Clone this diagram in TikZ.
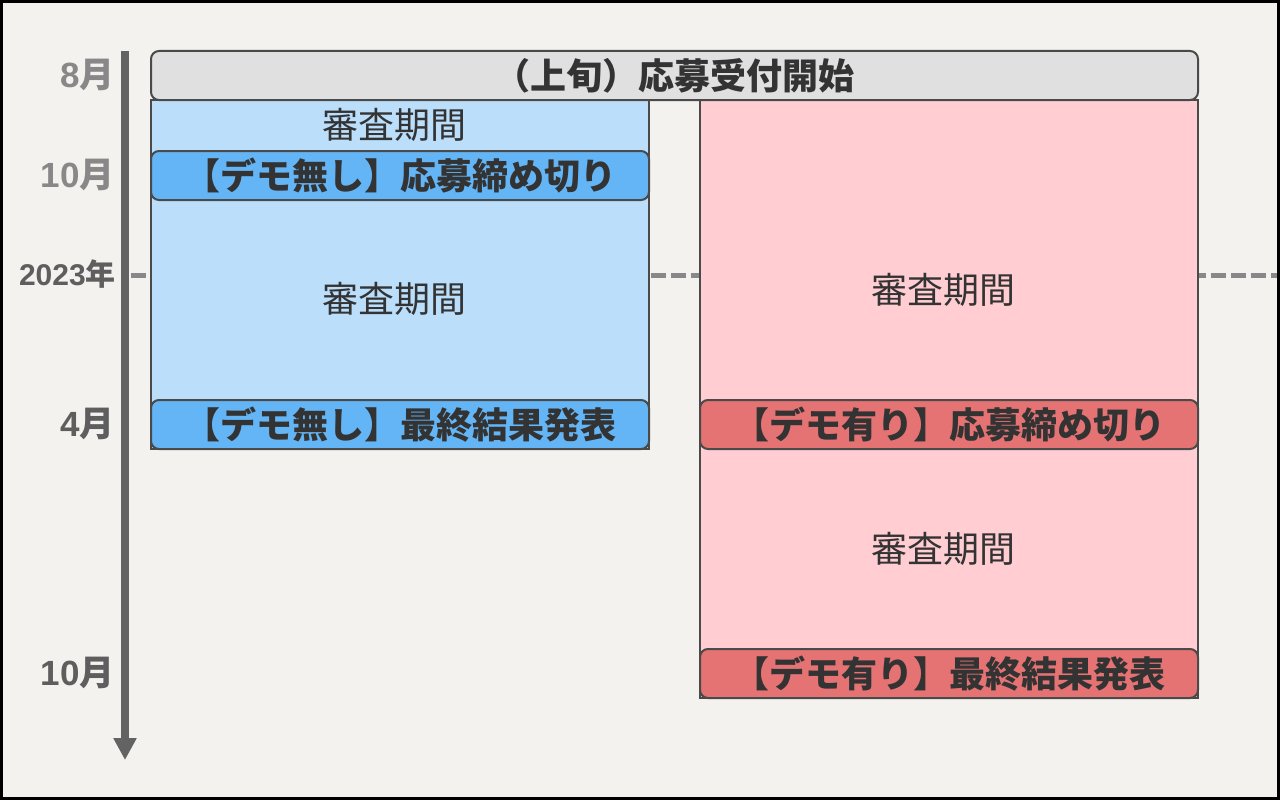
\documentclass[tikz,border=0pt]{standalone}
\usepackage{fontspec}
\newfontfamily\jp{Noto Sans CJK JP}
\newfontfamily\lib{Liberation Sans}
\usetikzlibrary{arrows.meta}
\definecolor{bgc}{HTML}{F4F2EE}
\definecolor{barGray}{HTML}{E0E0E0}
\definecolor{blueLt}{HTML}{BBDEFB}
\definecolor{blueDk}{HTML}{64B5F6}
\definecolor{pinkLt}{HTML}{FFCDD2}
\definecolor{redDk}{HTML}{E57373}
\definecolor{edge}{HTML}{4A4A4A}
\definecolor{txt}{HTML}{333333}
\definecolor{axisc}{HTML}{636363}
\definecolor{lblLight}{HTML}{888888}
\definecolor{lblDark}{HTML}{5E5E5E}
\definecolor{dashc}{HTML}{888888}
\tikzset{
  region/.style={draw=edge, line width=2pt, minimum width=498pt, inner sep=0pt},
  bar/.style={draw=edge, line width=2pt, rounded corners=8pt, minimum height=49pt, inner sep=0pt,
    text=txt, font=\jp\bfseries\fontsize{36}{40}\selectfont},
  period/.style={text=txt, font=\jp\fontsize{36}{40}\selectfont, inner sep=0pt},
  lbl/.style={anchor=east, font=\jp\bfseries\fontsize{35}{38}\selectfont, inner sep=0pt},
}
\begin{document}
\begin{tikzpicture}[x=1pt,y=-1pt]
\useasboundingbox (0,0) rectangle (1280,800);
\fill[bgc] (0,0) rectangle (1280,800);
% dashed year line
\coordinate (dashL) at (131,275.5);
\coordinate (dashR) at (1280,275.5);
\draw[dashc, line width=5pt, dash pattern=on 15pt off 5pt] (dashL) -- (dashR);
% regions
\node[region, fill=blueLt, minimum height=349pt] (blueReg) at (400,274.5) {};
\node[region, fill=pinkLt, minimum height=598pt] (pinkReg) at (949,399) {};
% top bar
\node[bar, fill=barGray, minimum width=1047pt] (start) at (674.5,75.5) {（上旬）応募受付開始};
% blue bars
\node[bar, fill=blueDk, minimum width=498pt] (bDead) at (400,175.5) {【デモ無し】応募締め切り};
\node[bar, fill=blueDk, minimum width=498pt] (bRes) at (400,424.5) {【デモ無し】最終結果発表};
% red bars
\node[bar, fill=redDk, minimum width=498pt] (rDead) at (949,424.5) {【デモ有り】応募締め切り};
\node[bar, fill=redDk, minimum width=498pt] (rRes) at (949,673.5) {【デモ有り】最終結果発表};
% periods
\node[period] (p1) at (394,125) {審査期間};
\node[period] (p2) at (394,299) {審査期間};
\node[period] (p3) at (943,290) {審査期間};
\node[period] (p4) at (943,549) {審査期間};
% axis
\coordinate (axTop) at (125,51);
\coordinate (axBot) at (125,760);
\draw[axisc, line width=8pt, -{Triangle[width=22pt,length=22pt]}] (axTop) -- (axBot);
% labels
\node[lbl, text=lblLight] (m8) at (115,75) {{\lib\bfseries 8}月};
\node[lbl, text=lblLight] (m10a) at (115,175) {{\lib\bfseries 10}月};
\node[lbl, text=lblDark, font=\jp\bfseries\fontsize{30}{32}\selectfont] (y23) at (116,274) {{\lib\bfseries 2023}年};
\node[lbl, text=lblDark] (m4) at (115,424) {{\lib\bfseries 4}月};
\node[lbl, text=lblDark] (m10b) at (115,673) {{\lib\bfseries 10}月};
% frame
\draw[black, line width=3pt] (1.5,1.5) rectangle (1278.5,798.5);
\end{tikzpicture}
\end{document}
